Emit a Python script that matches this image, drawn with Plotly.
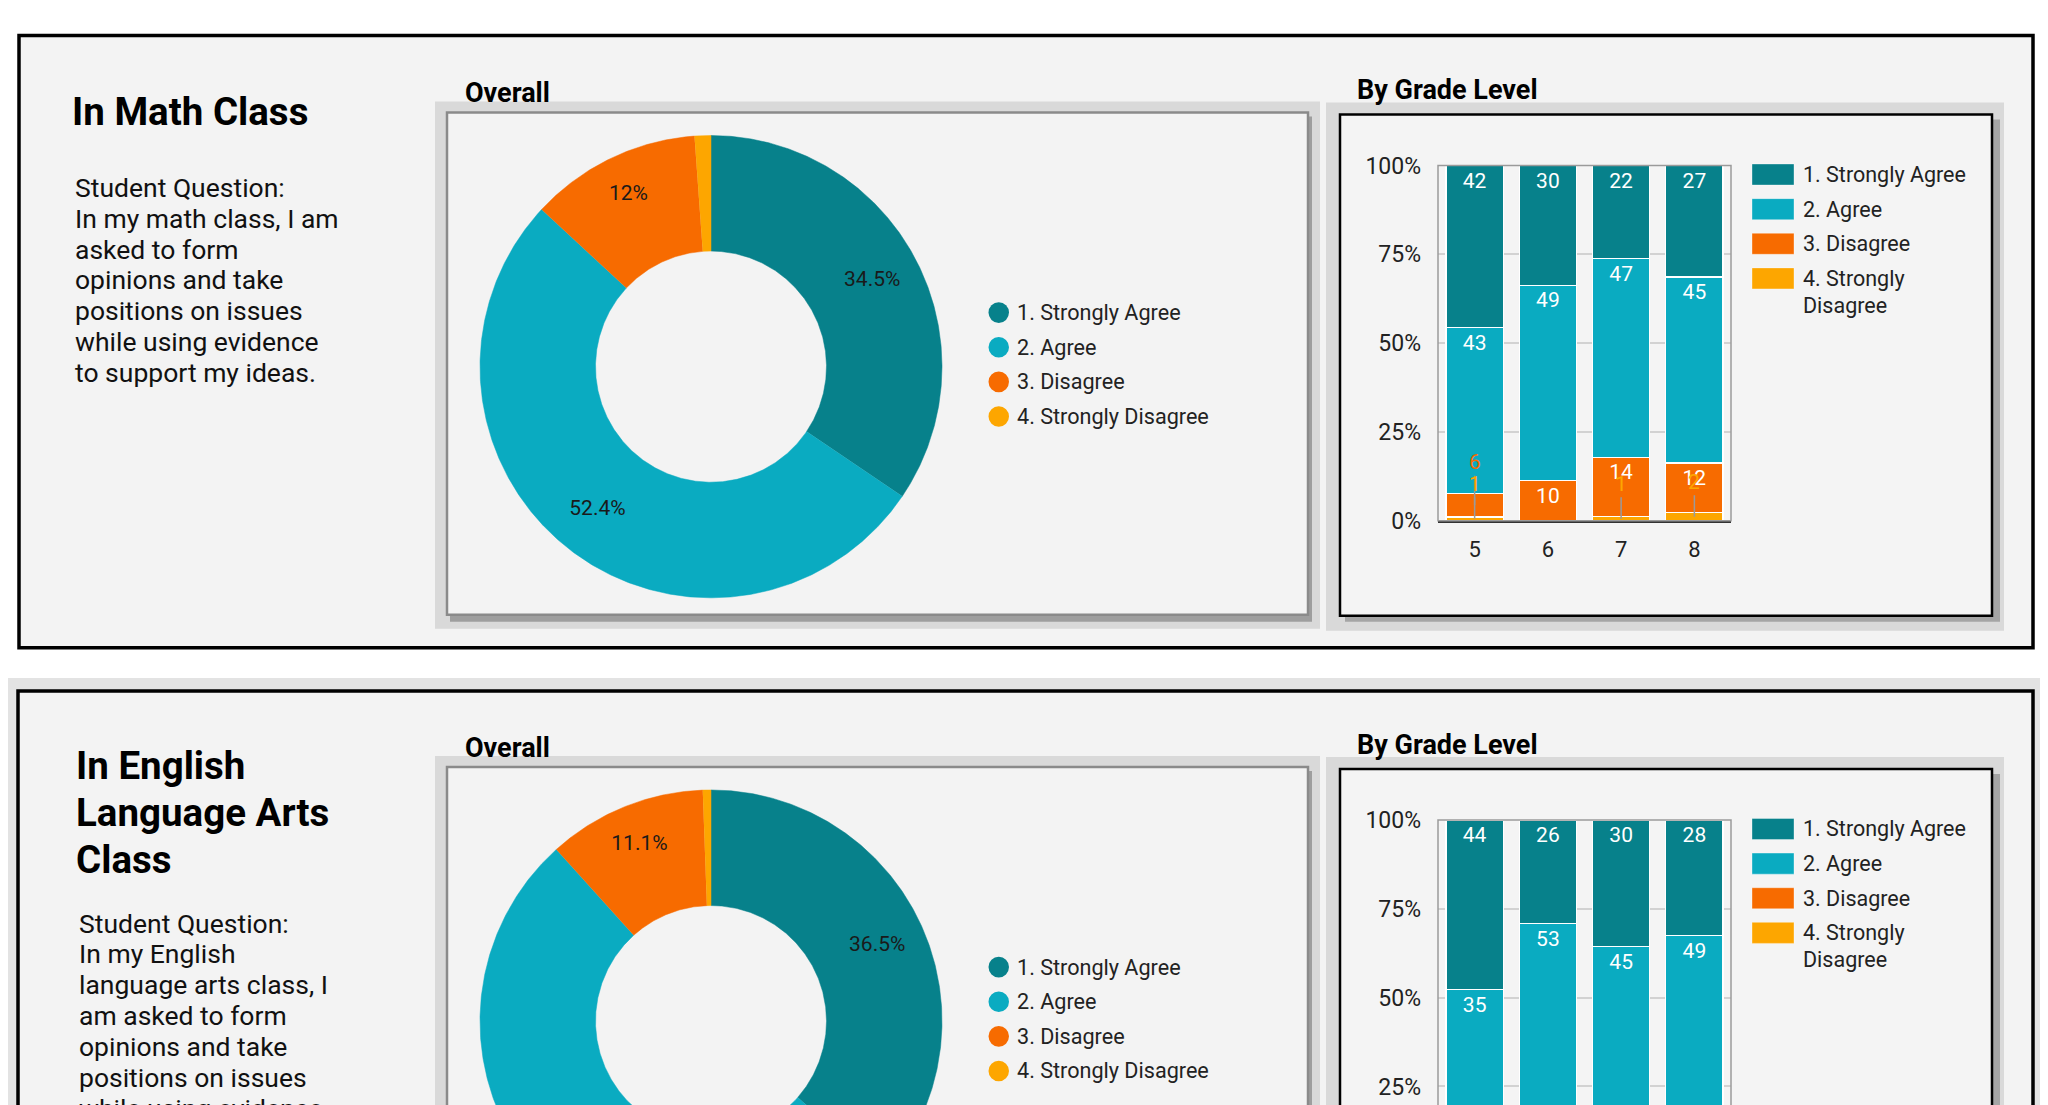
import textwrap
import numpy as np
import plotly.graph_objects as go

# ---- data ----
categories = ["1. Strongly Agree", "2. Agree", "3. Disagree", "4. Strongly Disagree"]
grades = ["5", "6", "7", "8"]

math_sa = [42, 30, 22, 27]
math_a = [43, 49, 47, 45]
math_d = [6, 10, 14, 12]
math_sd = [1, 0, 1, 2]
math_overall = [121, 184, 42, 4]

ela_sa = [44, 26, 30, 28]
ela_a = [35, 53, 45, 49]
ela_d = [12, 10, 8, 9]
ela_sd = [1, 0, 1, 0]
ela_overall = [128, 182, 39, 2]

colors = ["#07818b", "#0aabc1", "#f76b00", "#fda600"]
pct_ticks = [0, 25, 50, 75, 100]

panels = [
    dict(title=["In Math Class"],
         question=["Student Question:", "In my math class, I am", "asked to form", "opinions and take",
                   "positions on issues", "while using evidence", "to support my ideas."],
         overall=math_overall, grades=[math_sa, math_a, math_d, math_sd]),
    dict(title=["In English", "Language Arts", "Class"],
         question=["Student Question:", "In my English", "language arts class, I", "am asked to form",
                   "opinions and take", "positions on issues", "while using evidence",
                   "to support my ideas."],
         overall=ela_overall, grades=[ela_sa, ela_a, ela_d, ela_sd]),
]

# ---- layout constants (pixels of the target picture) ----
OX, OY, S = 8, 20.6, 0.975   # page offset and vertical squeeze seen in the photographed page
W, H = 2032, 1112
Y_END = OY + S * H           # target y at the figure's bottom edge
DY = 654                     # vertical offset of the second panel
FONT = "Roboto"
R_OUT, HOLE = 231, 0.5
DONUT_C = (711, 366)
BAR_X = (1438, 1731)
BAR_Y = (165, 520)           # 100% and 0% in panel 1
LABEL_LIFT = {2: 43, 3: 35}  # leader-line offset for small segments
TITLE_POS = [(70, 111), (74, 765)]
QUESTION_POS = [(73, 187), (77, 922)]


def px(x):
    return (x - OX) / W


def py(y):
    return 1 - (y - OY) / (S * H)


def rect(x0, y0, x1, y1, fill, line=None, lw=0, layer="below"):
    return dict(type="rect", xref="paper", yref="paper", layer=layer,
                x0=px(x0), x1=px(x1), y0=py(y1), y1=py(y0),
                fillcolor=fill, line=dict(color=line or fill, width=lw))


def note(text, x, y, size, color="#222222", xanchor="left"):
    return dict(text=text, x=px(x), y=py(y), xref="paper", yref="paper", xanchor=xanchor,
                yanchor="middle", align="left", showarrow=False, font=dict(size=size, color=color))


def pct(v):
    return f"{v:.3g}%"


def add_donut(fig, values, cx, cy, xa, ya):
    """Ring slices clockwise from 12 o'clock, on axes measured in target pixels."""
    total = sum(values)
    r_in = R_OUT * HOLE
    start = 0
    for v, c, cat in zip(values, colors, categories):
        a0, a1 = 2 * np.pi * start / total, 2 * np.pi * (start + v) / total
        t = np.linspace(a0, a1, max(int(720 * v / total), 2) + 1)
        xs = np.concatenate([cx + R_OUT * np.sin(t), cx + r_in * np.sin(t[::-1])])
        ys = np.concatenate([cy - R_OUT * np.cos(t), cy - r_in * np.cos(t[::-1])])
        fig.add_trace(go.Scatter(x=xs, y=ys, fill="toself", fillcolor=c, mode="lines",
                                 line=dict(color=c, width=0.5), xaxis=xa, yaxis=ya,
                                 showlegend=False, name=cat, hoverinfo="name"))
        share = v / total
        am = (a0 + a1) / 2
        rl = (0.79 if share > 0.2 else 0.825) * R_OUT
        lx, ly = cx + rl * np.sin(am), cy - rl * np.cos(am)
        if share >= 0.05 and ly < Y_END - 15:
            fig.add_trace(go.Scatter(x=[lx], y=[ly], mode="text", text=[pct(share * 100)],
                                     textfont=dict(size=21, color="#1a1a1a"),
                                     xaxis=xa, yaxis=ya, showlegend=False, hoverinfo="skip"))
        start += v


fig = go.Figure()
shapes = []
annotations = []
axes = {}

# page frames
shapes.append(rect(19, 35, 2033, 647, "#f3f3f3", "#000000", 3.5))
shapes.append(rect(4, 677, 2060, 1130, "#e3e3e3"))
shapes.append(rect(18, 690, 2033, 1130, "#f3f3f3", "#000000", 3.5))

for i, p in enumerate(panels):
    dy = DY * i

    # sub-chart frames
    shapes.append(rect(435, 101 + dy, 1320, 628 + dy, "#d9d9d9"))
    shapes.append(rect(450, 116 + dy, 1312, 621 + dy, "#9e9e9e"))
    shapes.append(rect(447, 112 + dy, 1308, 614 + dy, "#f3f3f3", "#8a8a8a", 2.5))
    shapes.append(rect(1326, 102 + dy, 2004, 630 + dy, "#d9d9d9"))
    shapes.append(rect(1345, 119 + dy, 2000, 621 + dy, "#a5a5a5"))
    shapes.append(rect(1340, 114 + dy, 1992, 615 + dy, "#f4f4f4", "#000000", 2.5))

    # texts on the left and chart titles
    tx, ty = TITLE_POS[i]
    for n, line in enumerate(p["title"]):
        annotations.append(note(f"<b>{line}</b>", tx, ty + 46.5 * n, 38.5, "#000000"))
    qx, qy = QUESTION_POS[i]
    for n, line in enumerate(p["question"]):
        annotations.append(note(line, qx, qy + 30.8 * n, 26.5, "#111111"))
    annotations.append(note("<b>Overall</b>", 463, 93 + dy, 27, "#000000"))
    annotations.append(note("<b>By Grade Level</b>", 1355, 90 + dy, 27, "#000000"))

    # ---- donut (second one runs past the bottom edge and is clipped by its axes) ----
    n_ax = 3 + i
    y_lo = min(614 + dy, Y_END)
    axes[f"xaxis{n_ax}"] = dict(domain=[px(447), px(1308)], anchor=f"y{n_ax}",
                                range=[447, 1308], visible=False, fixedrange=True)
    axes[f"yaxis{n_ax}"] = dict(domain=[py(y_lo), py(112 + dy)], anchor=f"x{n_ax}",
                                range=[y_lo, 112 + dy], visible=False, fixedrange=True)
    add_donut(fig, p["overall"], DONUT_C[0], DONUT_C[1] + dy, f"x{n_ax}", f"y{n_ax}")

    # donut legend
    for k, (cat, c) in enumerate(zip(categories, colors)):
        ry = 312 + dy + k * 34.6
        shapes.append(dict(type="circle", xref="paper", yref="paper", layer="above",
                           x0=px(988.5), x1=px(1009), y0=py(ry + 10.3), y1=py(ry - 10.3),
                           fillcolor=c, line=dict(width=0)))
        annotations.append(note(cat, 1015, ry, 21.6))

    # ---- stacked bars (last category at the bottom) ----
    xa = "x" if i == 0 else "x2"
    ya = "y" if i == 0 else "y2"
    low = 0 if i == 0 else 100 * (BAR_Y[1] + dy - Y_END) / (BAR_Y[1] - BAR_Y[0])
    counts = np.array(p["grades"], dtype=float)
    shares = counts / counts.sum(axis=0) * 100
    top_of = np.cumsum(shares[::-1], axis=0)[::-1]
    for k in reversed(range(len(categories))):
        labels = [str(v) if s >= 8 and top > low + 6 else ""
                  for v, s, top in zip(p["grades"][k], shares[k], top_of[k])]
        fig.add_trace(go.Bar(
            x=grades, y=p["grades"][k], name=categories[k],
            marker=dict(color=colors[k], line=dict(color="white", width=1.2)),
            text=labels, texttemplate="%{text}", textposition="inside", insidetextanchor="end",
            textangle=0, textfont=dict(size=21, color="white"), xaxis=xa, yaxis=ya,
            showlegend=False, hovertemplate="%{x}: %{y:.1f}%<extra>" + categories[k] + "</extra>"))

    # small segments get a label lifted above with a leader line
    for k in (2, 3):
        for g, (v, s) in enumerate(zip(p["grades"][k], shares[k])):
            mid = top_of[k][g] - s / 2
            if v == 0 or s >= 8 or mid < low:
                continue
            annotations.append(dict(text=str(v), x=g, y=mid, xref=xa, yref=ya,
                                    showarrow=True, arrowhead=0, arrowwidth=1.5, arrowcolor="#9a9a9a",
                                    ax=0, ay=-LABEL_LIFT[k], standoff=0,
                                    font=dict(size=21, color=colors[k])))

    # plot frame
    shapes.append(dict(type="rect", xref=f"{xa} domain", yref=f"{ya} domain", layer="above",
                       x0=0, x1=1, y0=0 if i == 0 else -1, y1=1,
                       line=dict(color="#9a9a9a", width=1.5), fillcolor="rgba(0,0,0,0)"))

    # bar legend
    for k, (cat, c) in enumerate(zip(categories, colors)):
        ry = 174 + dy + k * 34.6
        shapes.append(dict(type="rect", xref="paper", yref="paper", layer="above",
                           x0=px(1752), x1=px(1794), y0=py(ry + 10.5), y1=py(ry - 10.5),
                           fillcolor=c, line=dict(color="rgba(255,255,255,0.35)", width=1)))
        for n, line in enumerate(textwrap.wrap(cat, 17)):
            annotations.append(note(line, 1801, ry + 26.7 * n, 21.5))

ytick_style = dict(tickmode="array", tickvals=pct_ticks, ticktext=[f"{v}%" for v in pct_ticks],
                   showgrid=True, gridcolor="#d2d2d2", gridwidth=1.5, zeroline=False,
                   tickfont=dict(size=23, color="#222222"), ticklabelstandoff=16, fixedrange=True)
low2 = 100 * (BAR_Y[1] + DY - Y_END) / (BAR_Y[1] - BAR_Y[0])

fig.update_layout(
    width=W, height=H,
    margin=dict(l=0, r=0, t=0, b=0),
    paper_bgcolor="white", plot_bgcolor="rgba(0,0,0,0)",
    font=dict(family=FONT, color="#222222"),
    barmode="stack", barnorm="percent", bargap=0.22,
    shapes=shapes, annotations=annotations,
    xaxis=dict(domain=[px(BAR_X[0]), px(BAR_X[1])], anchor="y", type="category", showline=True,
               linecolor="#333333", linewidth=2, tickfont=dict(size=22, color="#222222"),
               ticklabelstandoff=8, fixedrange=True),
    yaxis=dict(domain=[py(BAR_Y[1]), py(BAR_Y[0])], anchor="x", range=[0, 100], **ytick_style),
    xaxis2=dict(domain=[px(BAR_X[0]), px(BAR_X[1])], anchor="y2", type="category",
                showticklabels=False, fixedrange=True),
    yaxis2=dict(domain=[0, py(BAR_Y[0] + DY)], anchor="x2", range=[low2, 100], **ytick_style),
    **axes,
)

fig.write_html("out.html")
